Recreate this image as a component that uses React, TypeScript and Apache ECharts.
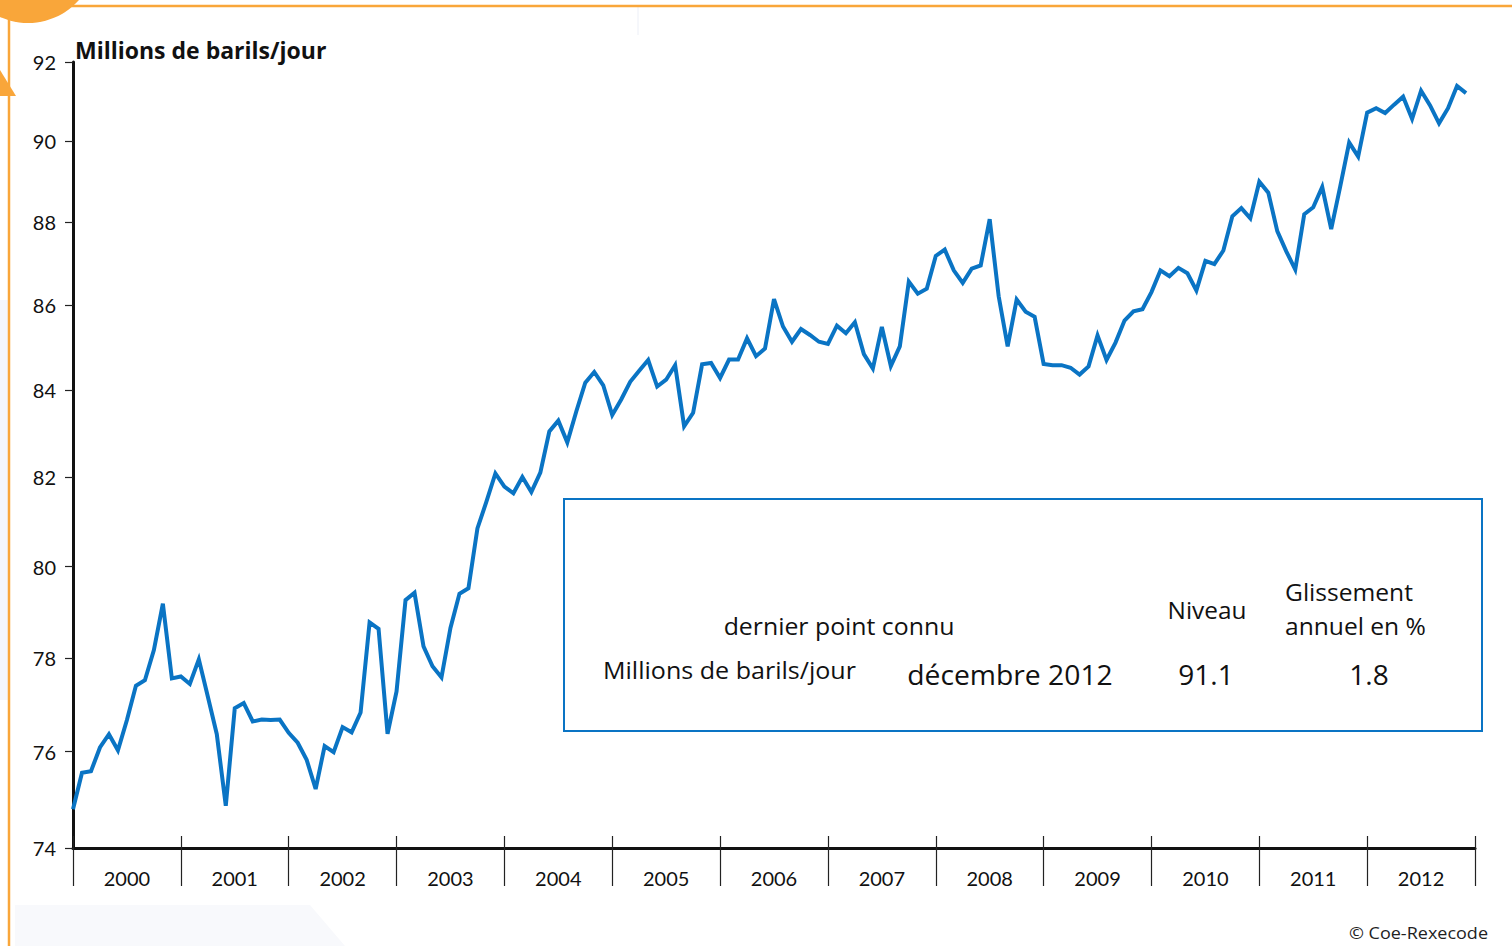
import React, { useEffect, useRef } from "react";
import * as echarts from "echarts";

const years = ["2000","2001","2002","2003","2004","2005","2006","2007","2008","2009","2010","2011","2012"];
const yTicks = [74, 76, 78, 80, 82, 84, 86, 88, 90, 92];
// Monthly world oil demand, millions of barrels/day, Jan 2000 .. Dec 2012
const demand = [
  74.8, 75.56, 75.59, 76.09, 76.37, 76.03, 76.67, 77.4, 77.52, 78.17, 79.18, 77.56,
  77.6, 77.44, 77.97, 77.17, 76.37, 74.87, 76.92, 77.03, 76.64, 76.68, 76.67, 76.68,
  76.4, 76.19, 75.83, 75.22, 76.12, 75.99, 76.52, 76.41, 76.83, 78.77, 78.63, 76.38,
  77.28, 79.26, 79.42, 78.25, 77.82, 77.58, 78.65, 79.4, 79.52, 80.85, 81.45, 82.09,
  81.79, 81.64, 82.01, 81.67, 82.11, 83.05, 83.3, 82.8, 83.51, 84.18, 84.43, 84.12,
  83.43, 83.79, 84.2, 84.46, 84.71, 84.09, 84.25, 84.59, 83.17, 83.48, 84.61, 84.64,
  84.29, 84.72, 84.72, 85.22, 84.8, 84.98, 86.15, 85.5, 85.14, 85.44, 85.3, 85.14,
  85.09, 85.52, 85.34, 85.6, 84.85, 84.51, 85.49, 84.57, 85.03, 86.57, 86.28, 86.4,
  87.19, 87.34, 86.84, 86.54, 86.88, 86.96, 88.08, 86.22, 85.03, 86.14, 85.85, 85.73,
  84.62, 84.59, 84.59, 84.53, 84.37, 84.56, 85.29, 84.71, 85.12, 85.64, 85.86, 85.91,
  86.32, 86.84, 86.7, 86.9, 86.77, 86.36, 87.07, 86.99, 87.32, 88.15, 88.35, 88.1,
  89.0, 88.73, 87.79, 87.3, 86.86, 88.2, 88.37, 88.87, 87.84, 88.88, 89.97, 89.62,
  90.72, 90.83, 90.71, 90.92, 91.12, 90.56, 91.27, 90.9, 90.45, 90.83, 91.39, 91.21
];
const unitLabel = "Millions de barils/jour";
const lastPointLabel = "dernier point connu";
const lastMonth = "décembre 2012";
const lastLevel = "91.1";
const lastGrowth = "1.8";

const FONT = "'Open Sans', 'Noto Sans', sans-serif";
const AXFONT = "Lato, 'Noto Sans', sans-serif";
const ORANGE = "#f9a63a";
const BLUE = "#0a74c4";

export default function App() {
  const ref = useRef<HTMLDivElement>(null);
  useEffect(() => {
    document.body.style.margin = "0";
    if (!ref.current) return;
    const chart = echarts.init(ref.current, null, { renderer: "svg" });
    const nMonths = years.length * 12;
    const yearBounds = years.map((_, i) => i * 12).concat([nMonths]);
    const yearMids = years.map((_, i) => i * 12 + 6);
    const logTicks = yTicks.map((v) => Math.log(v));
    const xAxisBase = {
      type: "value" as const,
      min: 0,
      max: nMonths,
      splitLine: { show: false },
    };
    const boxText = (text: string, x: number, y: number, size: number, align: string, sx: number) => ({
      type: "text",
      x,
      y,
      scaleX: sx,
      style: { text, fill: "#111", font: `${size}px ${FONT}`, textAlign: align, textVerticalAlign: "middle" },
      z: 5,
    });
    chart.setOption({
      animation: false,
      backgroundColor: "#ffffff",
      grid: { left: 73, right: 37, top: 62, bottom: 98, containLabel: false },
      xAxis: [
        {
          ...xAxisBase,
          axisLine: { show: true, onZero: false, lineStyle: { color: "#111", width: 3 } },
          axisTick: { show: true, inside: false, length: 38, customValues: yearBounds, lineStyle: { color: "#222", width: 1.2 } },
          axisLabel: {
            customValues: yearMids,
            formatter: (v: number) => years[Math.round((v - 6) / 12)] ?? "",
            color: "#111",
            fontSize: 20,
            fontFamily: AXFONT,
            margin: 20,
          },
        },
        {
          ...xAxisBase,
          position: "bottom",
          axisLine: { show: false },
          axisTick: { show: true, inside: true, length: 12, customValues: yearBounds, lineStyle: { color: "#222", width: 1.2 } },
          axisLabel: { show: false },
        },
      ],
      yAxis: {
        type: "value",
        min: Math.log(yTicks[0]),
        max: Math.log(yTicks[yTicks.length - 1]),
        splitLine: { show: false },
        axisLine: { show: true, onZero: false, lineStyle: { color: "#111", width: 3 } },
        axisTick: { show: true, length: 8, customValues: logTicks, lineStyle: { color: "#222", width: 1.2 } },
        axisLabel: {
          customValues: logTicks,
          formatter: (v: number) => String(Math.round(Math.exp(v))),
          color: "#111",
          fontSize: 20,
          fontFamily: AXFONT,
          margin: 17,
        },
      },
      series: [
        {
          type: "line",
          data: demand.map((v, i) => [i, Math.log(v)]),
          showSymbol: false,
          lineStyle: { color: BLUE, width: 4, join: "miter" },
          z: 3,
        },
      ],
      graphic: [
        // decorations
        { type: "circle", shape: { cx: 28, cy: -45, r: 68 }, style: { fill: ORANGE }, z: 1 },
        { type: "line", shape: { x1: 70, y1: 6, x2: 1512, y2: 6 }, style: { stroke: ORANGE, lineWidth: 2.5 }, z: 1 },
        { type: "line", shape: { x1: 9, y1: 15, x2: 9, y2: 946 }, style: { stroke: ORANGE, lineWidth: 2.5 }, z: 1 },
        { type: "polygon", shape: { points: [[0, 70], [16, 96], [0, 96]] }, style: { fill: ORANGE }, z: 1 },
        { type: "line", shape: { x1: 638, y1: 7, x2: 638, y2: 35 }, style: { stroke: "#eceff7", lineWidth: 1 }, z: 0 },
        { type: "polygon", shape: { points: [[15, 905], [310, 905], [345, 946], [15, 946]] }, style: { fill: "#f8f9fc" }, z: 0 },
        { type: "polygon", shape: { points: [[0, 300], [8, 300], [8, 700], [0, 700]] }, style: { fill: "#f4f6fb" }, z: 0 },
        // title
        { type: "text", x: 75, y: 50, style: { text: unitLabel, fill: "#111", font: `bold 23px ${FONT}`, textVerticalAlign: "middle" }, z: 5 },
        // info box
        { type: "rect", shape: { x: 564, y: 499, width: 918, height: 232 }, style: { fill: "#ffffff", stroke: BLUE, lineWidth: 2 }, z: 4 },
        boxText(lastPointLabel, 839, 626, 23, "center", 1.08),
        boxText(unitLabel, 603, 670, 23, "left", 1.09),
        boxText(lastMonth, 1010, 674, 28, "center", 1.01),
        boxText("Niveau", 1207, 610, 23, "center", 1.06),
        boxText("Glissement", 1285, 592, 23, "left", 1.07),
        boxText("annuel en %", 1285, 626, 23, "left", 1.07),
        boxText(lastLevel, 1206, 674, 28, "center", 1.0),
        boxText(lastGrowth, 1369, 674, 28, "center", 1.0),
        // source
        { type: "text", x: 1488, y: 932, scaleX: 1.06, style: { text: "© Coe-Rexecode", fill: "#222", font: `17px ${FONT}`, textAlign: "right", textVerticalAlign: "middle" }, z: 5 },
      ],
    });
    return () => chart.dispose();
  }, []);
  return <div ref={ref} style={{ width: 1512, height: 946 }} />;
}
